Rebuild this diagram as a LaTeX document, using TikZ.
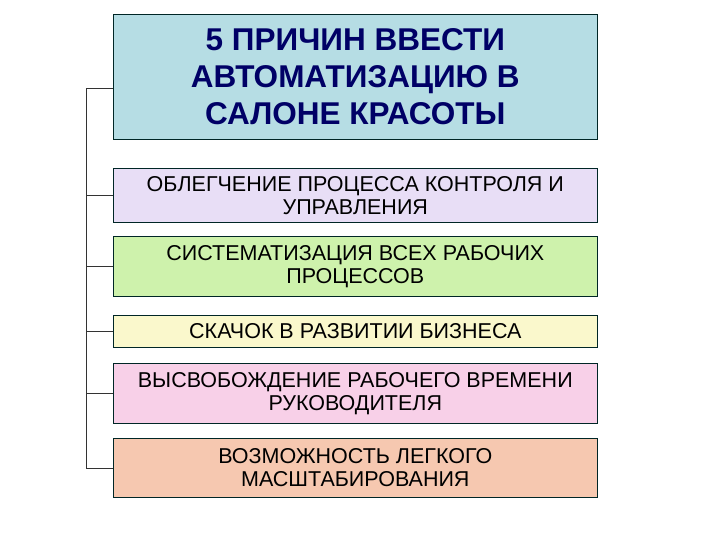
\documentclass[tikz,border=0pt]{standalone}
\usepackage{fontspec}
\setmainfont{Liberation Sans}
\begin{document}
\begin{tikzpicture}[x=1pt,y=-1pt,
  bx/.style={draw=black!70!teal,line width=0.6pt,minimum width=484pt,anchor=north west,inner sep=0pt,align=center,font=\fontsize{21.5}{23}\selectfont},
  ln/.style={draw=black!80,line width=0.6pt}]
\useasboundingbox (0,0) rectangle (720,540);
\node[bx,fill={rgb,255:red,182;green,221;blue,228},minimum height=125pt,text=blue!40!black,font=\bfseries\fontsize{31.5}{37}\selectfont] (t) at (113,14) {5 ПРИЧИН ВВЕСТИ\\АВТОМАТИЗАЦИЮ В\\САЛОНЕ КРАСОТЫ};
\node[bx,fill={rgb,255:red,232;green,222;blue,246},minimum height=54pt] (a) at (113,168) {ОБЛЕГЧЕНИЕ ПРОЦЕССА КОНТРОЛЯ И\\УПРАВЛЕНИЯ};
\node[bx,fill={rgb,255:red,206;green,242;blue,172},minimum height=60pt] (b) at (113,236) {СИСТЕМАТИЗАЦИЯ ВСЕХ РАБОЧИХ\\ПРОЦЕССОВ};
\node[bx,fill={rgb,255:red,250;green,248;blue,204},minimum height=32pt] (c) at (113,315) {СКАЧОК В РАЗВИТИИ БИЗНЕСА};
\node[bx,fill={rgb,255:red,248;green,208;blue,232},minimum height=60pt] (d) at (113,363) {ВЫСВОБОЖДЕНИЕ РАБОЧЕГО ВРЕМЕНИ\\РУКОВОДИТЕЛЯ};
\node[bx,fill={rgb,255:red,246;green,200;blue,176},minimum height=59pt] (e) at (113,438) {ВОЗМОЖНОСТЬ ЛЕГКОГО\\МАСШТАБИРОВАНИЯ};
\coordinate (tj) at (113,88);
\coordinate (top) at (86,88);
\coordinate (bot) at (86,0 |- e.west);
\draw[ln] (tj) -- (top) -- (bot) -- (e.west);
\foreach \n in {a,b,c,d} \draw[ln] (\n.west) -- (top |- \n.west);
\end{tikzpicture}
\end{document}
